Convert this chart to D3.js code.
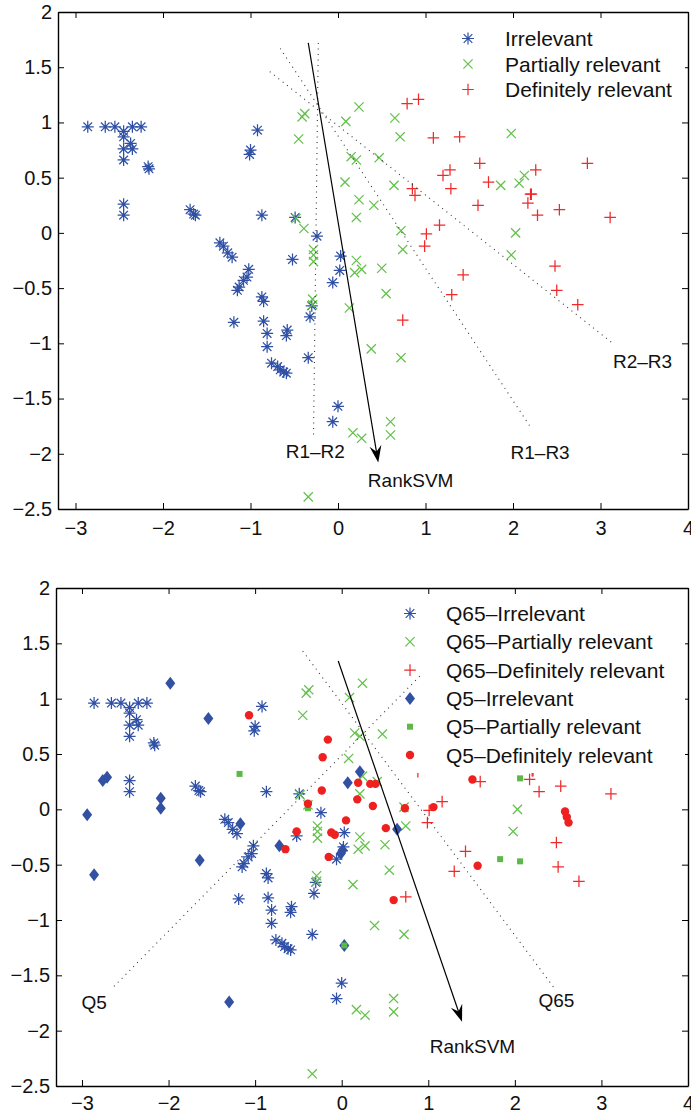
<!DOCTYPE html>
<html>
<head>
<meta charset="utf-8">
<script src="https://cdn.jsdelivr.net/npm/d3@7"></script>
<style>
  body { margin: 0; background: #fff; }
  text { font-family: "Liberation Sans", Arial, sans-serif; fill: #111; }
</style>
</head>
<body>
<div id="chart"></div>
<script>
// Q65 projected points (same in both panels)
const q65Irrelevant = [
  [-2.86,0.96],[-2.66,0.96],[-2.55,0.96],[-2.45,0.92],[-2.35,0.96],[-2.25,0.96],
  [-2.45,0.87],[-2.45,0.76],[-2.37,0.81],[-2.35,0.76],[-2.45,0.66],
  [-2.17,0.60],[-2.16,0.58],[-2.45,0.26],[-2.45,0.16],
  [-1.69,0.21],[-1.65,0.17],[-1.63,0.16],
  [-0.92,0.93],[-1.00,0.75],[-1.01,0.71],
  [-0.87,0.16],[-0.49,0.14],[-0.24,-0.03],[-0.52,-0.24],[0.03,-0.21],[0.02,-0.34],[-0.06,-0.45],
  [-1.35,-0.09],[-1.31,-0.12],[-1.26,-0.18],[-1.21,-0.22],[-1.02,-0.33],[-1.04,-0.40],
  [-1.08,-0.43],[-1.13,-0.49],[-1.15,-0.52],
  [-0.87,-0.58],[-0.85,-0.62],[-1.19,-0.81],[-0.85,-0.80],[-0.81,-0.91],[-0.81,-1.03],
  [-0.58,-0.88],[-0.59,-0.93],[-0.76,-1.18],[-0.69,-1.21],[-0.66,-1.24],[-0.62,-1.26],[-0.59,-1.27],
  [-0.32,-0.76],[-0.30,-0.66],[-0.34,-1.13],[0.00,-1.57],[-0.06,-1.71]
];
const q65Partial = [
  [-0.41,1.05],[-0.38,1.08],[0.24,1.14],[0.09,1.01],[0.65,1.04],[-0.45,0.85],[0.71,0.87],[1.98,0.90],
  [0.15,0.69],[0.21,0.66],[0.47,0.68],[0.08,0.46],[0.64,0.43],[0.24,0.30],[0.41,0.25],[0.21,0.14],
  [-0.48,0.13],[-0.39,0.04],[0.72,0.02],[0.74,-0.15],[-0.28,-0.15],[-0.28,-0.20],[-0.28,-0.26],
  [0.21,-0.25],[0.27,-0.33],[0.19,-0.36],[0.50,-0.32],
  [2.13,0.52],[2.07,0.45],[1.86,0.43],[2.03,0.00],[1.98,-0.20],
  [0.55,-0.55],[0.13,-0.68],[-0.29,-0.60],[-0.29,-0.65],[0.38,-1.05],[0.72,-1.13],
  [0.60,-1.71],[0.60,-1.83],[0.17,-1.81],[0.27,-1.86],[-0.34,-2.39]
];
const q65Definite = [
  [0.79,1.17],[0.92,1.21],[1.09,0.86],[1.39,0.87],[1.62,0.63],[2.26,0.57],[2.85,0.63],
  [1.28,0.57],[1.20,0.52],[1.72,0.46],[0.85,0.40],[0.88,0.34],[1.29,0.40],[2.20,0.35],[2.21,0.35],
  [2.17,0.27],[2.28,0.16],[2.53,0.21],[3.11,0.14],[1.60,0.25],[1.16,0.07],[1.01,-0.01],[0.99,-0.12],
  [2.48,-0.30],[1.43,-0.38],[2.50,-0.52],[2.74,-0.65],[1.30,-0.56],[0.74,-0.79]
];
// Q5 points (bottom panel only)
const q5Irrelevant = [
  [-1.98,1.14],[-1.54,0.82],[-2.71,0.29],[-2.76,0.26],[-2.09,0.10],[-2.09,0.01],[-2.94,-0.05],
  [-1.17,-0.13],[-0.72,-0.33],[0.07,0.24],[0.21,0.34],[0.64,-0.18],[-1.64,-0.46],[-2.86,-0.59],
  [-1.30,-1.74],[-0.01,-0.40],[0.01,-0.37],[0.03,-1.23]
];
const q5Partial = [
  [-1.18,0.32],[-0.39,0.01],[2.06,0.28],[1.83,-0.45],[2.06,-0.47],[0.03,-1.23]
];
const q5Definite = [
  [-1.07,0.85],[-0.16,0.63],[-0.22,0.47],[-0.23,0.17],[-0.39,0.05],[-0.52,-0.20],[-0.12,-0.21],
  [-0.08,-0.23],[0.05,-0.10],[-0.65,-0.36],[-0.15,-0.43],[0.19,0.24],[0.33,0.23],[0.39,0.23],
  [0.18,0.09],[0.36,0.03],[0.51,-0.17],[0.73,0.01],[1.06,0.02],[1.51,0.27],[2.58,-0.02],
  [2.60,-0.07],[2.62,-0.12],[1.57,-0.51],[0.60,-0.82]
];

const xTicks = [-3, -2, -1, 0, 1, 2, 3, 4];
const yTicks = [-2.5, -2, -1.5, -1, -0.5, 0, 0.5, 1, 1.5, 2];

// direction lines
const rankSvmTop = [[-0.34, 1.72], [0.46, -2.08]];
const r1r2Line = [[-0.225, 1.72], [-0.28, -1.84]];
const r1r3Line = [[-0.66, 1.67], [2.21, -1.77]];
const r2r3Line = [[-0.78, 1.46], [3.14, -1.00]];
const rankSvmBottom = [[-0.04, 1.34], [1.39, -1.92]];
const q5Line = [[-2.63, -1.60], [0.91, 1.21]];
const q65Line = [[-0.45, 1.43], [2.45, -1.61]];

const topLabels = [["R1\u2013R2", -0.26, -2.04], ["R1\u2013R3", 2.31, -2.05], ["R2\u2013R3", 3.48, -1.22], ["RankSVM", 0.83, -2.30]];
const bottomLabels = [["Q5", -2.86, -1.80], ["Q65", 2.48, -1.79], ["RankSVM", 1.51, -2.20]];

const topLegend = ["Irrelevant", "Partially relevant", "Definitely relevant"];
const bottomLegend = ["Q65\u2013Irrelevant", "Q65\u2013Partially relevant", "Q65\u2013Definitely relevant",
  "Q5\u2013Irrelevant", "Q5\u2013Partially relevant", "Q5\u2013Definitely relevant"];

const blue = "#2f50a6", green = "#63c04a", red = "#ee2a2a";
const markers = {
  star:    { d: "M-6,0H6M0,-6V6M-4.3,-4.3L4.3,4.3M-4.3,4.3L4.3,-4.3", stroke: blue, fill: "none" },
  cross:   { d: "M-4.6,-4.6L4.6,4.6M-4.6,4.6L4.6,-4.6", stroke: green, fill: "none" },
  plus:    { d: "M-5.8,0H5.8M0,-5.8V5.8", stroke: red, fill: "none" },
  diamond: { d: "M0,-6.5L5,0L0,6.5L-5,0Z", stroke: "none", fill: "#3251a3" },
  square:  { d: "M-3,-3H3V3H-3Z", stroke: "none", fill: "#5cb847" },
  circle:  { d: "M4.2,0A4.2,4.2 0 1,1 -4.2,0A4.2,4.2 0 1,1 4.2,0Z", stroke: "none", fill: "#ee2020" }
};

const svg = d3.select("#chart").append("svg")
  .attr("width", 691).attr("height", 1114)
  .style("background", "#fff");

const fmt = v => v < 0 ? "\u2212" + Math.abs(v) : String(v);

function drawPanel(p) {
  const x = d3.scaleLinear().domain(p.xDomain).range([p.left, p.right]);
  const y = d3.scaleLinear().domain([-2.5, 2]).range([p.bottom, p.top]);
  const g = svg.append("g");

  // axes, ticks pointing inward on all sides
  const axes = [
    [d3.axisBottom(x).tickValues(xTicks).tickFormat(fmt).tickPadding(p.xPad), `translate(0,${p.bottom})`],
    [d3.axisTop(x).tickValues(xTicks).tickFormat(""), `translate(0,${p.top})`],
    [d3.axisLeft(y).tickValues(yTicks).tickFormat(fmt).tickPadding(6), `translate(${p.left},0)`],
    [d3.axisRight(y).tickValues(yTicks).tickFormat(""), `translate(${p.right},0)`]
  ];
  axes.forEach(([ax, tr]) => {
    const a = g.append("g").attr("transform", tr)
      .call(ax.tickSizeInner(-6).tickSizeOuter(0));
    a.select(".domain").attr("stroke", "#000").attr("stroke-width", 1.4);
    a.selectAll(".tick line").attr("stroke", "#000").attr("stroke-width", 1);
    a.selectAll("text").attr("font-size", 20).attr("fill", "#111")
      .attr("font-family", "'Liberation Sans', Arial, sans-serif");
  });

  const line = d3.line().x(d => x(d[0])).y(d => y(d[1]));

  // scatter series
  p.series.forEach(s => {
    const m = markers[s.marker];
    g.append("g").selectAll("path").data(s.data).join("path")
      .attr("transform", d => `translate(${x(d[0])},${y(d[1])})`)
      .attr("d", m.d).attr("fill", m.fill).attr("stroke", m.stroke)
      .attr("stroke-width", 1.25);
  });

  // legend (white box hides the points behind it)
  const leg = g.append("g");
  leg.append("rect").attr("x", p.legendBox[0]).attr("y", p.legendBox[1])
    .attr("width", p.legendBox[2]).attr("height", p.legendBox[3]).attr("fill", "#fff");
  p.legend.forEach((name, i) => {
    const ly = p.legendY + i * p.legendStep;
    const m = markers[p.series[i].marker];
    leg.append("path").attr("transform", `translate(${p.legendX},${ly})`)
      .attr("d", m.d).attr("fill", m.fill).attr("stroke", m.stroke).attr("stroke-width", 1.2);
    leg.append("text").attr("x", p.legendX + p.legendGap).attr("y", ly + 7.5)
      .attr("font-size", 21).text(name);
  });

  // dotted boundaries
  p.dotted.forEach(l => {
    g.append("path").attr("d", line(l)).attr("fill", "none")
      .attr("stroke", "#333").attr("stroke-width", 1.1)
      .attr("stroke-dasharray", "1,4.5");
  });

  // RankSVM arrow
  const [a0, a1] = p.arrow;
  const x0 = x(a0[0]), y0 = y(a0[1]), x1 = x(a1[0]), y1 = y(a1[1]);
  const ang = Math.atan2(y1 - y0, x1 - x0);
  const ca = Math.cos(ang), sa = Math.sin(ang);
  g.append("line").attr("x1", x0).attr("y1", y0)
    .attr("x2", x1 - 8 * ca).attr("y2", y1 - 8 * sa)
    .attr("stroke", "#000").attr("stroke-width", 1.2);
  const pt = (l, w) => [x1 - l * ca - w * sa, y1 - l * sa + w * ca];
  g.append("path")
    .attr("d", "M" + [pt(0, 0), pt(17, 6), pt(11, 0), pt(17, -6)].join("L") + "Z")
    .attr("fill", "#000");

  // annotation labels
  g.selectAll("text.ann").data(p.labels).join("text").attr("class", "ann")
    .attr("x", d => x(d[1])).attr("y", d => y(d[2]))
    .attr("text-anchor", "middle").attr("font-size", 19)
    .text(d => d[0]);
}

drawPanel({
  xDomain: [-3.2, 4], left: 58, right: 688, top: 12, bottom: 509, xPad: 12,
  series: [
    { data: q65Irrelevant, marker: "star" },
    { data: q65Partial, marker: "cross" },
    { data: q65Definite, marker: "plus" }
  ],
  dotted: [r1r2Line, r1r3Line, r2r3Line],
  arrow: rankSvmTop,
  labels: topLabels,
  legend: topLegend, legendX: 468, legendY: 38.5, legendStep: 25.5, legendGap: 37,
  legendBox: [452, 20, 233, 82]
});

drawPanel({
  xDomain: [-3.3, 4], left: 56, right: 688, top: 588, bottom: 1086, xPad: 10,
  series: [
    { data: q65Irrelevant, marker: "star" },
    { data: q65Partial, marker: "cross" },
    { data: q65Definite, marker: "plus" },
    { data: q5Irrelevant, marker: "diamond" },
    { data: q5Partial, marker: "square" },
    { data: q5Definite, marker: "circle" }
  ],
  dotted: [q5Line, q65Line],
  arrow: rankSvmBottom,
  labels: bottomLabels,
  legend: bottomLegend, legendX: 410, legendY: 613.5, legendStep: 28.3, legendGap: 36,
  legendBox: [392, 594, 293, 179]
});
</script>
</body>
</html>
